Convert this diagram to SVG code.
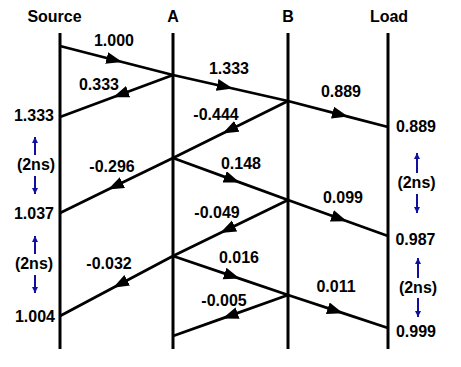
<svg xmlns="http://www.w3.org/2000/svg" width="461" height="367" viewBox="0 0 461 367">
<style>
text{font-family:"Liberation Sans",Arial,sans-serif;font-weight:bold;font-size:16px;fill:#000;text-anchor:middle}
.v{stroke:#000;stroke-width:3;fill:none}
.w{stroke:#000;stroke-width:2.8;fill:none;marker-mid:url(#ah)}
.b{stroke:#1010a0;stroke-width:2;fill:none;marker-end:url(#bh)}
</style>
<defs>
<marker id="ah" markerUnits="userSpaceOnUse" markerWidth="17" markerHeight="13" refX="16" refY="6" orient="auto"><path d="M0,0 L16,6 L0,12 Z" fill="#000"/></marker>
<marker id="bh" markerUnits="userSpaceOnUse" markerWidth="8" markerHeight="8" refX="6" refY="3" orient="auto"><path d="M0,0 L6,3 L0,6 Z" fill="#1010a0"/></marker>
</defs>
<g id="source"><text x="54.5" y="22">Source</text><line class="v" x1="60" y1="33" x2="60" y2="349"/></g>
<g id="A"><text x="173" y="22">A</text><line class="v" x1="173" y1="33" x2="173" y2="349"/></g>
<g id="B"><text x="288" y="22">B</text><line class="v" x1="288" y1="33" x2="288" y2="349"/></g>
<g id="load"><text x="389" y="22">Load</text><line class="v" x1="388" y1="33" x2="388" y2="349"/></g>
<g id="connectors">
<path class="w" d="M60,46 L122.2,62 L173,75"/>
<path class="w" d="M173,75 L113.1,97.3 L60,117"/>
<path class="w" d="M173,75 L232.8,88.5 L288,101"/>
<path class="w" d="M288,101 L348,116.6 L388,127"/>
<path class="w" d="M288,101 L222.5,133.5 L173,158"/>
<path class="w" d="M173,158 L108,189.6 L60,213"/>
<path class="w" d="M173,158 L239.7,182.4 L288,200"/>
<path class="w" d="M288,200 L347,221.2 L388,236"/>
<path class="w" d="M288,200 L220.2,233 L173,256"/>
<path class="w" d="M173,256 L113.1,287.8 L60,316"/>
<path class="w" d="M173,256 L239.7,278.6 L288,295"/>
<path class="w" d="M288,295 L343,313.2 L388,328"/>
<path class="w" d="M288,295 L222.5,318.4 L173,336"/>
</g>
<g id="labels">
<text x="114" y="46">1.000</text>
<text x="99" y="90">0.333</text>
<text x="229" y="74">1.333</text>
<text x="341" y="97">0.889</text>
<text x="216" y="120">-0.444</text>
<text x="112" y="172">-0.296</text>
<text x="241" y="169">0.148</text>
<text x="343" y="203">0.099</text>
<text x="217" y="218">-0.049</text>
<text x="109" y="269">-0.032</text>
<text x="239" y="263">0.016</text>
<text x="336" y="292">0.011</text>
<text x="224" y="306">-0.005</text>
<text x="34" y="121">1.333</text>
<text x="34" y="219">1.037</text>
<text x="35" y="322">1.004</text>
<text x="416" y="132">0.889</text>
<text x="415.5" y="245">0.987</text>
<text x="416" y="337">0.999</text>
</g>
<g id="intervals">
<text x="36" y="170">(2ns)</text>
<line class="b" x1="35" y1="155" x2="35" y2="137"/>
<line class="b" x1="35" y1="176" x2="35" y2="194"/>
<text x="34" y="269">(2ns)</text>
<line class="b" x1="35" y1="254" x2="35" y2="236"/>
<line class="b" x1="35" y1="275" x2="35" y2="293"/>
<text x="416.5" y="188">(2ns)</text>
<line class="b" x1="417" y1="173" x2="417" y2="153"/>
<line class="b" x1="417" y1="194" x2="417" y2="213"/>
<text x="418" y="293">(2ns)</text>
<line class="b" x1="418" y1="278" x2="418" y2="258"/>
<line class="b" x1="418" y1="298" x2="418" y2="317"/>
</g>
</svg>
